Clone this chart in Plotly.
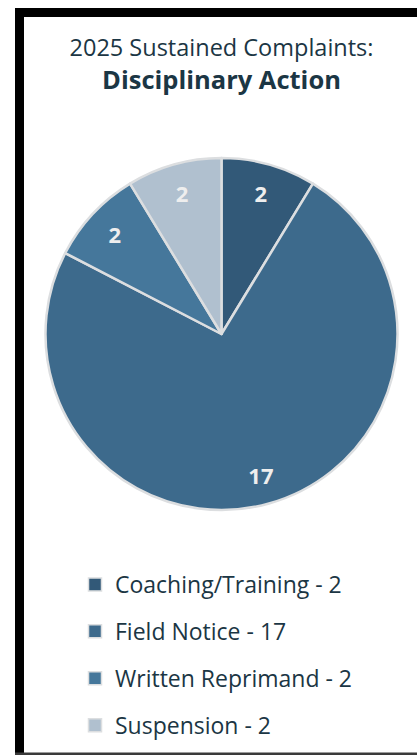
import plotly.graph_objects as go

W, H = 417, 755

categories = ["Coaching/Training", "Field Notice", "Written Reprimand", "Suspension"]
values = [2, 17, 2, 2]
colors = ["#325978", "#3D6A8C", "#45779B", "#B0C0CF"]

title_line1 = "2025 Sustained Complaints:"
title_line2 = "Disciplinary Action"

FONT = "Open Sans"
TEXT_DARK = "#1B3644"
EDGE = "#DCDEE0"

PIE_DOMAIN = dict(x=[45 / W, 398 / W], y=[1 - 510 / H, 1 - 158 / H])

fig = go.Figure()

# coloured pie (no text)
fig.add_trace(go.Pie(
    labels=categories,
    values=values,
    sort=False,
    direction="clockwise",
    rotation=0,
    marker=dict(colors=colors, line=dict(color=EDGE, width=2.5)),
    textinfo="none",
    domain=PIE_DOMAIN,
    showlegend=False,
    hoverinfo="label+value",
))

# transparent ring carrying the value labels near the rim
fig.add_trace(go.Pie(
    labels=categories,
    values=values,
    sort=False,
    direction="clockwise",
    rotation=0,
    hole=0.66,
    marker=dict(colors=["rgba(0,0,0,0)"] * len(values), line=dict(width=0)),
    texttemplate="<b>%{value}</b>",
    textposition="inside",
    insidetextorientation="horizontal",
    textfont=dict(family=FONT, size=22, color="#EEEEEE"),
    domain=PIE_DOMAIN,
    showlegend=False,
    hoverinfo="skip",
))

# legend entries (one per category, separate groups for spacing)
for cat, val, col in zip(categories, values, colors):
    fig.add_trace(go.Scatter(
        x=[None], y=[None], mode="markers",
        name=f"{cat} - {val}",
        legendgroup=cat,
        marker=dict(symbol="square", size=13, color=col,
                    line=dict(color=EDGE, width=1.5)),
        showlegend=True,
    ))

# frame
shapes = [
    dict(type="rect", xref="paper", yref="paper",
         x0=15 / W, x1=24 / W, y0=0, y1=1 - 8 / H,
         fillcolor="black", line=dict(width=0), layer="above"),
    dict(type="rect", xref="paper", yref="paper",
         x0=15 / W, x1=1, y0=1 - 17 / H, y1=1 - 8 / H,
         fillcolor="black", line=dict(width=0), layer="above"),
    dict(type="rect", xref="paper", yref="paper",
         x0=15 / W, x1=1, y0=0, y1=2.5 / H,
         fillcolor="#3A3A3A", line=dict(width=0), layer="above"),
]

fig.update_layout(
    width=W, height=H,
    margin=dict(l=0, r=0, t=0, b=0, autoexpand=False),
    paper_bgcolor="white",
    plot_bgcolor="white",
    xaxis=dict(visible=False),
    yaxis=dict(visible=False),
    shapes=shapes,
    title=dict(
        text=(f"<span style='font-size:23.5px'>{title_line1}</span><br>"
              f"<span style='font-size:25.5px'><b>{title_line2}</b></span>"),
        font=dict(family=FONT, size=26, color=TEXT_DARK),
        x=221.5 / W, xanchor="center", xref="container",
        y=1 - 55.5 / H, yanchor="top", yref="container",
    ),
    legend=dict(
        x=75 / W, xanchor="left", xref="container",
        y=1 - 563 / H, yanchor="top", yref="container",
        font=dict(family=FONT, size=23, color=TEXT_DARK),
        tracegroupgap=14,
        bgcolor="rgba(0,0,0,0)",
    ),
)

fig.write_html("out.html")
